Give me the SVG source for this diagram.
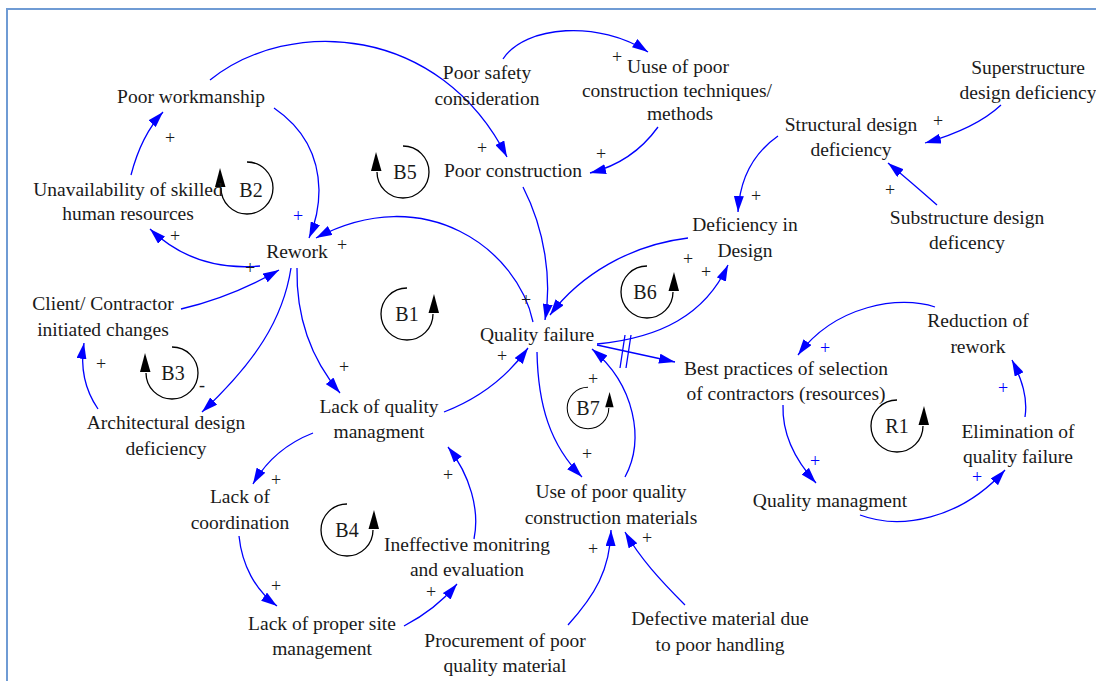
<svg xmlns="http://www.w3.org/2000/svg" width="1096" height="681" viewBox="0 0 1096 681">
<style>
text{font-family:"Liberation Serif","Times New Roman",serif;fill:#1a1a1a}
.n{font-size:19.5px;text-anchor:middle}
.p{font-size:18px;text-anchor:middle}
.pb{font-size:18px;text-anchor:middle;fill:#0000ff}
.lb{font-size:20px;text-anchor:middle}
.c{fill:none;stroke:#0000ff;stroke-width:1.3;marker-end:url(#ah)}
.d{fill:none;stroke:#0000ff;stroke-width:1.3}
.lp{fill:none;stroke:#000;stroke-width:1.3}
</style>
<defs>
<marker id="ah" viewBox="0 0 16 10" refX="16" refY="5" markerWidth="16" markerHeight="10" markerUnits="userSpaceOnUse" orient="auto">
<path d="M0,0 L16,5 L0,10 z" fill="#0000ff"/>
</marker>
<g id="loopR">
<path class="lp" d="M0,-26 A26,26 0 1 0 26,0"/>
<polygon points="27,-20 21.5,-1 32,-1" fill="#000"/>
</g>
<g id="loopL">
<path class="lp" d="M0,-26 A26,26 0 1 1 -26,0"/>
<polygon points="-27,-20 -21.5,-1 -32,-1" fill="#000"/>
</g>
</defs>
<rect width="1096" height="681" fill="#fff"/>
<path d="M7,700 L7,9 L1110,9" fill="none" stroke="#6f9bd4" stroke-width="2"/>

<g id="connectors">
<path class="c" d="M131,175 C138,148 148,128 163,112"/>
<path class="c" d="M274,108 Q318,138 319,190 Q319,215 309,238"/>
<path class="c" d="M260,266 Q195,272 150,229"/>
<path class="c" d="M181,309 Q232,297 279,270"/>
<path class="c" d="M210,80 C290,16 440,25 507,157"/>
<path class="c" d="M523,187 C545,230 552,280 545,320"/>
<path class="c" d="M533,322 C518,250 425,180 316,238"/>
<path class="c" d="M503,59 C525,25 600,20 648,52"/>
<path class="c" d="M658,127 C640,152 618,166 590,173"/>
<path class="c" d="M688,238 C630,245 580,275 550,315"/>
<path class="c" d="M597,344 C660,338 705,315 728,265"/>
<path class="c" d="M778,136 C755,152 740,175 738,212"/>
<path class="c" d="M1001,105 C985,120 960,133 925,143"/>
<path class="c" d="M937,205 C920,190 905,177 888,163"/>
<path class="c" d="M597,345 L675,362"/>
<path class="d" d="M625,335 L620,368 M631,335 L626,368"/>
<path class="c" d="M935,307 C900,295 835,305 798,355"/>
<path class="c" d="M783,405 C782,435 795,460 816,483"/>
<path class="c" d="M860,515 C900,530 960,520 1005,470"/>
<path class="c" d="M1025,417 C1028,398 1022,380 1012,360"/>
<path class="c" d="M291,268 C283,320 255,362 202,412"/>
<path class="c" d="M297,268 C296,320 312,360 340,393"/>
<path class="c" d="M98,409 C85,390 80,368 84,343"/>
<path class="c" d="M444,412 C475,400 505,380 528,348"/>
<path class="c" d="M313,433 C290,442 268,458 253,484"/>
<path class="c" d="M239,536 C242,565 255,590 277,606"/>
<path class="c" d="M404,626 C425,615 442,602 457,584"/>
<path class="c" d="M474,539 C480,510 470,475 448,447"/>
<path class="c" d="M537,352 C538,405 550,445 582,477"/>
<path class="c" d="M625,477 C645,440 635,385 592,349"/>
<path class="c" d="M568,625 C595,595 610,570 611,530"/>
<path class="c" d="M685,605 C660,580 640,558 625,532"/>
</g>

<g id="polarities">
<text class="p" x="170" y="144">+</text>
<text class="pb" x="298" y="222">+</text>
<text class="p" x="175" y="242">+</text>
<text class="p" x="250" y="274">+</text>
<text class="p" x="342" y="251">+</text>
<text class="p" x="482" y="154">+</text>
<text class="p" x="526" y="306">+</text>
<text class="p" x="617" y="63">+</text>
<text class="p" x="601" y="160">+</text>
<text class="p" x="688" y="265">+</text>
<text class="p" x="706" y="278">+</text>
<text class="p" x="756" y="202">+</text>
<text class="p" x="938" y="127">+</text>
<text class="p" x="890" y="196">+</text>
<text class="pb" x="825" y="354">+</text>
<text class="pb" x="815" y="467">+</text>
<text class="pb" x="977" y="483">+</text>
<text class="pb" x="1003" y="394">+</text>
<text class="p" x="344" y="373">+</text>
<text class="p" x="101" y="370">+</text>
<text class="p" x="502" y="362">+</text>
<text class="p" x="276" y="486">+</text>
<text class="p" x="276" y="592">+</text>
<text class="p" x="431" y="598">+</text>
<text class="p" x="448" y="481">+</text>
<text class="p" x="587" y="460">+</text>
<text class="p" x="593" y="385">+</text>
<text class="p" x="593" y="555">+</text>
<text class="p" x="647" y="544">+</text>
<text class="p" x="202" y="391">-</text>
</g>

<g id="loops">
<g id="loop-B2"><use href="#loopL" x="247" y="188"/><text class="lb" x="251" y="197">B2</text></g>
<g id="loop-B5"><use href="#loopL" x="403" y="172"/><text class="lb" x="405" y="179">B5</text></g>
<g id="loop-B3"><use href="#loopL" x="172" y="373"/><text class="lb" x="173" y="380">B3</text></g>
<g id="loop-B1"><use href="#loopR" x="407" y="314"/><text class="lb" x="407" y="321">B1</text></g>
<g id="loop-B6"><use href="#loopR" x="647" y="292"/><text class="lb" x="645" y="299">B6</text></g>
<g id="loop-B4"><use href="#loopR" x="347" y="530"/><text class="lb" x="347" y="537">B4</text></g>
<g id="loop-R1"><use href="#loopR" x="897" y="426"/><text class="lb" x="897" y="433">R1</text></g>
<g id="loop-B7"><use href="#loopR" transform="translate(588,408) scale(0.8)"/><text class="lb" x="588" y="415">B7</text></g>
</g>

<g id="poor-workmanship"><text class="n" x="191" y="103">Poor workmanship</text></g>
<g id="unavailability"><text class="n" x="128" y="196">Unavailability of skilled<tspan x="128" dy="24">human resources</tspan></text></g>
<g id="rework"><text class="n" x="297" y="258">Rework</text></g>
<g id="client-changes"><text class="n" x="103" y="310">Client/ Contractor<tspan x="103" dy="26">initiated changes</tspan></text></g>
<g id="architectural"><text class="n" x="166" y="429">Architectural design<tspan x="166" dy="26">deficiency</tspan></text></g>
<g id="poor-safety"><text class="n" x="487" y="79">Poor safety<tspan x="487" dy="26">consideration</tspan></text></g>
<g id="uuse-poor-techniques"><text class="n" x="678" y="73">Uuse of poor<tspan x="677" dy="24">construction techniques/</tspan><tspan x="680" dy="23">methods</tspan></text></g>
<g id="poor-construction"><text class="n" x="513" y="177">Poor construction</text></g>
<g id="structural-design"><text class="n" x="851" y="131">Structural design<tspan x="851" dy="25">deficiency</tspan></text></g>
<g id="superstructure"><text class="n" x="1028" y="74">Superstructure<tspan x="1028" dy="25">design deficiency</tspan></text></g>
<g id="substructure"><text class="n" x="967" y="224">Substructure design<tspan x="967" dy="25">deficency</tspan></text></g>
<g id="deficiency-design"><text class="n" x="745" y="231">Deficiency in<tspan x="745" dy="26">Design</tspan></text></g>
<g id="quality-failure"><text class="n" x="537" y="341">Quality failure</text></g>
<g id="best-practices"><text class="n" x="786" y="375">Best practices of selection<tspan x="786" dy="25">of contractors (resources)</tspan></text></g>
<g id="reduction-rework"><text class="n" x="978" y="327">Reduction of<tspan x="978" dy="26">rework</tspan></text></g>
<g id="elimination"><text class="n" x="1018" y="438">Elimination of<tspan x="1018" dy="25">quality failure</tspan></text></g>
<g id="quality-managment"><text class="n" x="830" y="507">Quality managment</text></g>
<g id="lack-quality"><text class="n" x="379" y="413">Lack of quality<tspan x="379" dy="25">managment</tspan></text></g>
<g id="lack-coordination"><text class="n" x="240" y="503">Lack of<tspan x="240" dy="26">coordination</tspan></text></g>
<g id="ineffective-monitoring"><text class="n" x="467" y="551">Ineffective monitring<tspan x="467" dy="25">and evaluation</tspan></text></g>
<g id="lack-site"><text class="n" x="322" y="630">Lack of proper site<tspan x="322" dy="25">management</tspan></text></g>
<g id="procurement"><text class="n" x="505" y="647">Procurement of poor<tspan x="505" dy="25">quality material</tspan></text></g>
<g id="use-poor-materials"><text class="n" x="611" y="498">Use of poor quality<tspan x="611" dy="26">construction materials</tspan></text></g>
<g id="defective-material"><text class="n" x="720" y="625">Defective material due<tspan x="720" dy="26">to poor handling</tspan></text></g>
</svg>
